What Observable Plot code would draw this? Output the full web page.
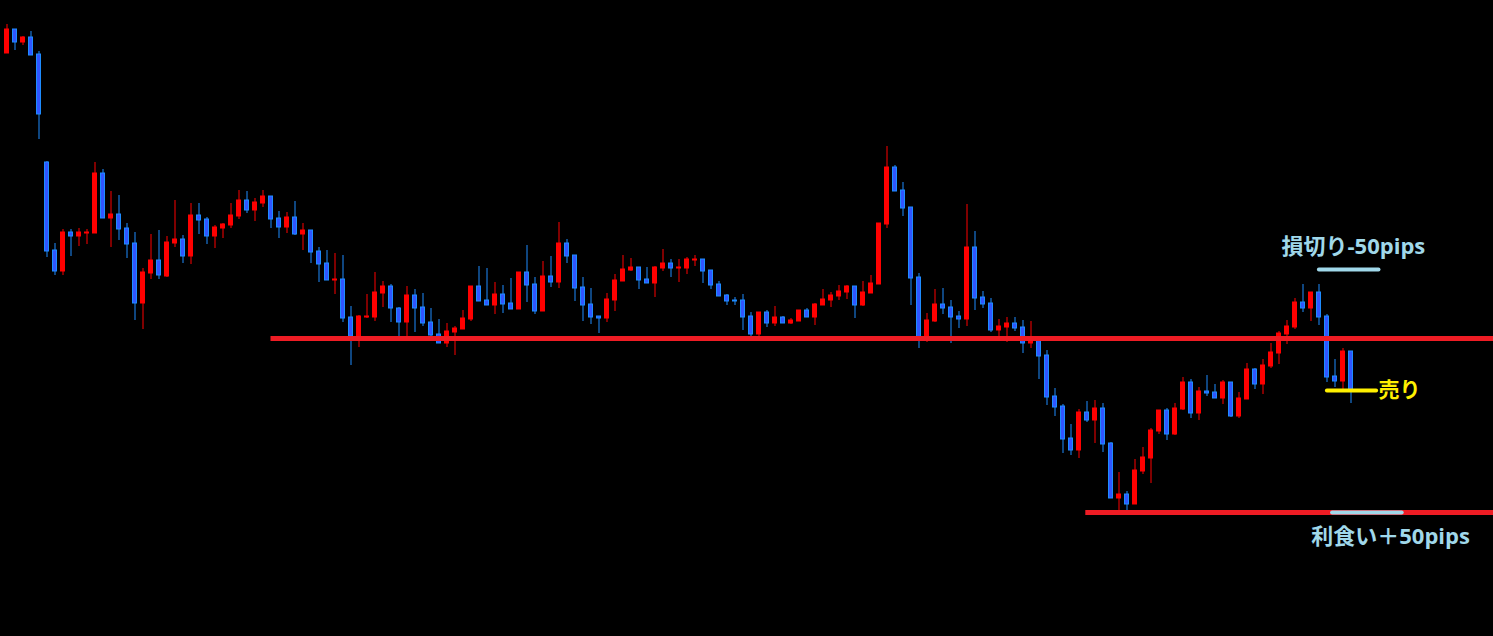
<!DOCTYPE html>
<html>
<head>
<meta charset="utf-8">
<script src="https://cdn.jsdelivr.net/npm/d3@7"></script>
<script src="https://cdn.jsdelivr.net/npm/@observablehq/plot@0.6"></script>
<style>
  html, body { margin: 0; padding: 0; background: #000; overflow: hidden; }
  #chart svg { display: block; }
</style>
</head>
<body>
<div id="chart"></div>
<script>
// OHLC prices (points), one entry per bar
const open = [
  647,671,658,663,646,538,450,429,468,464,
  467,467,527,482,486,472,457,397,427,440,
  424,457,461,444,485,481,464,472,475,484,
  500,490,497,504,482,473,483,466,470,449,
  437,420,421,383,363,383,383,407,414,392,
  378,405,393,378,366,357,368,371,381,414,
  400,395,406,397,391,428,416,389,424,418,
  457,445,413,396,384,382,400,419,430,433,
  421,417,432,437,432,432,440,441,430,416,
  405,400,400,384,366,388,377,383,377,379,
  390,383,395,400,404,408,414,395,407,416,
  476,533,510,493,423,363,379,396,393,384,
  381,453,403,397,370,373,377,373,357,360,
  345,304,294,262,250,288,280,292,257,202,
  206,196,229,242,269,290,266,291,318,287,
  309,308,302,318,284,301,331,316,334,347,
  366,373,398,392,408,384,324,319,349
];
const high = [
  676,671,664,669,649,539,457,471,471,472,
  471,538,531,509,505,477,468,432,466,470,
  464,500,465,497,497,483,475,477,497,510,
  509,502,510,504,489,488,499,477,470,453,
  450,447,445,394,385,406,428,419,416,393,
  414,411,407,392,381,377,374,390,414,434,
  432,418,415,422,428,455,423,439,444,478,
  461,445,423,412,384,407,426,445,442,433,
  433,434,451,441,441,443,445,441,430,419,
  406,403,406,388,388,390,394,384,382,390,
  392,397,411,408,415,415,414,419,425,477,
  554,535,518,493,427,387,411,412,400,389,
  496,469,409,402,381,383,383,380,379,360,
  350,312,296,276,291,299,300,297,258,228,
  209,241,253,272,290,292,297,323,321,313,
  325,316,320,318,308,337,332,341,357,369,
  380,402,416,408,416,386,341,352,349
];
const low = [
  647,650,655,645,561,443,425,425,444,454,
  456,467,482,453,460,442,380,371,421,421,
  423,453,437,436,466,456,452,462,472,481,
  487,479,493,472,462,467,465,450,437,418,
  420,406,378,335,353,382,379,393,378,364,
  363,368,374,363,357,353,345,371,379,399,
  395,386,387,391,391,398,386,389,413,412,
  437,399,379,376,367,378,389,419,429,411,
  417,403,429,423,418,426,434,417,411,404,
  395,395,370,364,364,373,374,377,376,379,
  383,375,395,393,400,401,382,394,407,416,
  472,509,484,395,352,358,378,386,357,372,
  374,390,392,368,363,358,369,347,352,321,
  295,284,247,245,242,278,257,248,202,189,
  190,196,226,217,266,260,265,290,282,280,
  304,302,296,283,282,301,311,306,332,336,
  356,371,388,379,375,318,313,310,297
];
const close = [
  671,658,663,645,586,449,429,468,464,468,
  468,527,482,486,471,456,397,428,440,425,
  458,461,444,485,480,464,473,476,485,500,
  490,498,504,481,473,483,466,470,448,436,
  420,421,382,364,384,384,408,414,392,378,
  405,392,377,365,357,369,372,382,414,399,
  395,406,396,391,428,415,389,424,418,457,
  444,412,395,383,382,401,420,431,433,420,
  417,433,437,432,433,441,441,429,415,404,
  399,399,383,366,388,377,383,377,380,390,
  383,396,401,405,409,414,395,408,417,477,
  533,509,492,422,363,380,396,392,383,381,
  453,402,396,370,374,377,372,357,360,344,
  303,293,261,250,288,280,292,256,202,206,
  196,230,243,270,290,266,292,318,287,309,
  307,302,318,284,302,331,316,335,348,367,
  374,398,392,408,383,323,319,349,310
];

// Horizontal support / resistance lines (price level, starting bar)
const srLevels = [362, 188];
const srStart  = [33, 134.85];

// Trade annotations
const tradeNames  = ["損切り-50pips", "売り", "利食い＋50pips"];
const tradeLevels = [431, 310, 188];
const tradeFrom   = [164.05, 165.05, 165.7];
const tradeTo     = [171.5, 171.2, 174.4];
const labelBars   = [168.3, 171.45, 172.95];
const labelLevels = [454, 310, 164];
const labelSizes  = [22, 21, 22];

const RED = "#ff0000";
const BLUE_FILL = "#3055ff";
const BLUE_EDGE = "#1e8cff";
const LINE_RED = "#ee1c24";
const LIGHT_BLUE = "#a0d8ea";
const YELLOW = "#fff000";

const candles = open.map((o, i) => ({
  i, open: o, high: high[i], low: low[i], close: close[i], up: close[i] > o
}));
const srLines = srLevels.map((lv, k) => ({level: lv, from: srStart[k], to: 186}));
const tradeLines = tradeLevels.map((lv, k) => ({
  level: lv, from: tradeFrom[k], to: tradeTo[k], color: k === 1 ? YELLOW : LIGHT_BLUE
}));
const labels = tradeNames.map((t, k) => ({
  text: t, bar: labelBars[k], level: labelLevels[k], size: labelSizes[k],
  color: k === 1 ? YELLOW : LIGHT_BLUE, anchor: k === 1 ? "start" : "middle"
}));

const chart = Plot.plot({
  width: 1493,
  height: 636,
  marginTop: 0, marginRight: 0, marginBottom: 0, marginLeft: 0,
  style: {background: "#000"},
  x: {domain: [-0.8125, 185.8125], axis: null},
  y: {domain: [64, 700], axis: null},
  color: {type: "identity"},
  marks: [
    Plot.ruleX(candles, {
      x: "i", y1: "low", y2: "high",
      stroke: d => d.up ? RED : BLUE_EDGE, strokeWidth: 1
    }),
    Plot.rect(candles, {
      x1: d => d.i - 0.25, x2: d => d.i + 0.25,
      y1: "open", y2: "close",
      fill: d => d.up ? RED : BLUE_FILL,
      stroke: d => d.up ? RED : BLUE_EDGE, strokeWidth: 1
    }),
    Plot.ruleY(srLines, {
      y: "level", x1: "from", x2: "to",
      stroke: LINE_RED, strokeWidth: 5
    }),
    Plot.ruleY(tradeLines, {
      y: "level", x1: "from", x2: "to",
      stroke: "color", strokeWidth: 4, strokeLinecap: "round"
    }),
    ...labels.map(l => Plot.text([l], {
      x: "bar", y: "level", text: "text",
      fill: "color", textAnchor: l.anchor, lineAnchor: "middle",
      fontSize: l.size, fontWeight: 700,
      fontFamily: "'Open Sans', 'Noto Sans CJK JP', sans-serif"
    }))
  ]
});
document.getElementById("chart").appendChild(chart);
</script>
</body>
</html>
